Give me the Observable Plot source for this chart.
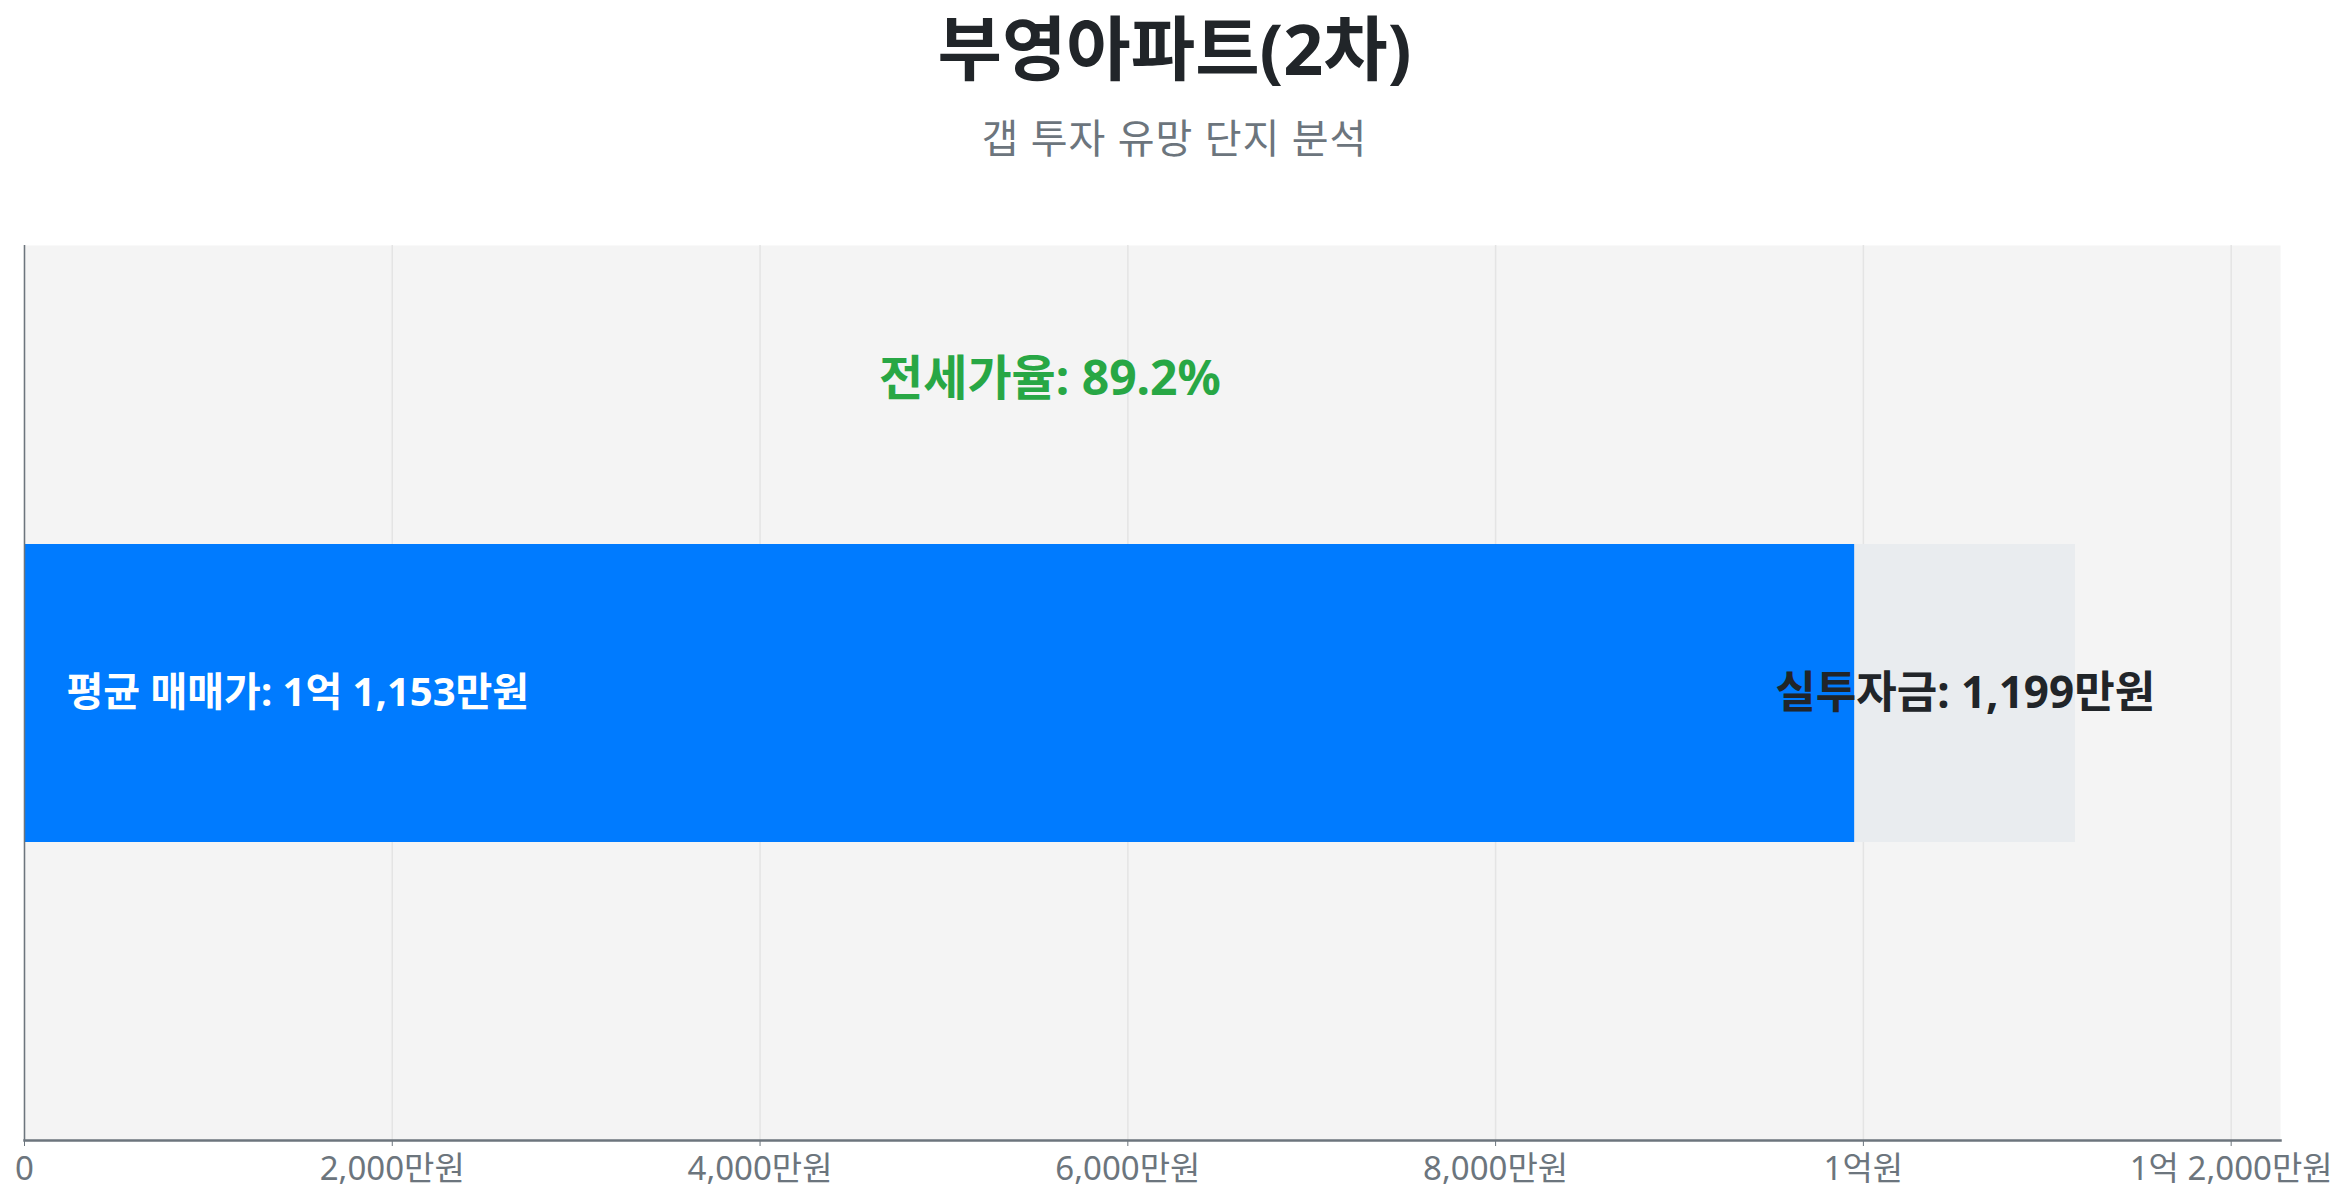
<!DOCTYPE html>
<html><head><meta charset="utf-8">
<script src="https://cdn.jsdelivr.net/npm/d3@7"></script>
<script src="https://cdn.jsdelivr.net/npm/@observablehq/plot@0.6"></script>
<style>
body{margin:0;background:#fff;font-family:"Noto Sans","Noto Sans CJK KR",sans-serif;}
#header{height:200px;}
#title{height:96px;line-height:96px;font-size:70px;font-weight:700;color:#212529;text-align:center;}
#subtitle{margin-top:16px;height:52px;line-height:52px;font-size:40px;color:#6c757d;text-align:center;letter-spacing:1px;}
</style></head><body>
<div id="header"><div id="title"></div><div id="subtitle"></div></div>
<div id="chart"></div>
<script>
const complexName = "부영아파트(2차)";
const subtitleText = "갭 투자 유망 단지 분석";
const segmentNames = ["전세가", "실투자금"];
const segmentStarts = [0, 9954];
const segmentEnds = [9954, 11153];
const segmentColors = ["#007bff", "#e9ecef"];
const avgSalePrice = 11153;   // 만원
const gapInvestment = 1199;   // 만원
const jeonseRatio = 89.2;     // %
const xTicks = [0, 2000, 4000, 6000, 8000, 10000, 12000];

document.getElementById("title").textContent = complexName;
document.getElementById("subtitle").textContent = subtitleText;

const comma = d3.format(",");
function fmtWon(v) {
  if (v === 0) return "0";
  const eok = Math.floor(v / 10000), man = v % 10000;
  if (eok > 0 && man === 0) return `${eok}억원`;
  if (eok > 0) return `${eok}억 ${comma(man)}만원`;
  return `${comma(man)}만원`;
}

const segments = segmentNames.map((n, i) => ({name: n, x1: segmentStarts[i], x2: segmentEnds[i], color: segmentColors[i], y: complexName}));

const chart = Plot.plot({
  width: 2349,
  height: 1001,
  marginTop: 45,
  marginBottom: 61,
  marginLeft: 24,
  marginRight: 69,
  style: {fontFamily: '"Noto Sans","Noto Sans CJK KR",sans-serif', fontSize: "33px", color: "#6c757d", background: "transparent", overflow: "visible"},
  x: {domain: [0, avgSalePrice * 1.1], ticks: xTicks, tickFormat: fmtWon, tickSize: 6, tickPadding: 10, label: null},
  y: {domain: [complexName], padding: 0.5, axis: null},
  marks: [
    Plot.frame({fill: "#f4f4f4", stroke: null}),
    Plot.gridX(xTicks, {stroke: "#e4e4e4", strokeOpacity: 1, strokeWidth: 1.5}),
    Plot.barX(segments, {x1: "x1", x2: "x2", y: "y", fill: "color", insetTop: 0, insetBottom: 0}),
    Plot.ruleX([0], {stroke: "#6c757d", strokeWidth: 1.5}),
    Plot.frame({anchor: "bottom", stroke: "#6c757d", strokeWidth: 2.5}),
    Plot.text([avgSalePrice], {x: 0, y: () => complexName, dx: 42, textAnchor: "start", text: d => `평균 매매가: ${fmtWon(d)}`, fill: "#ffffff", fontWeight: 700, fontSize: 40}),
    Plot.text([gapInvestment], {x: () => (segmentStarts[1] + segmentEnds[1]) / 2, y: () => complexName, textAnchor: "middle", text: d => `실투자금: ${fmtWon(d)}`, fill: "#212529", fontWeight: 700, fontSize: 44}),
    Plot.text([jeonseRatio], {x: () => avgSalePrice / 2, frameAnchor: "top", dy: 115, textAnchor: "middle", text: d => `전세가율: ${d}%`, fill: "#28a745", fontWeight: 700, fontSize: 48})
  ]
});
document.getElementById("chart").appendChild(chart);
</script>
</body></html>
